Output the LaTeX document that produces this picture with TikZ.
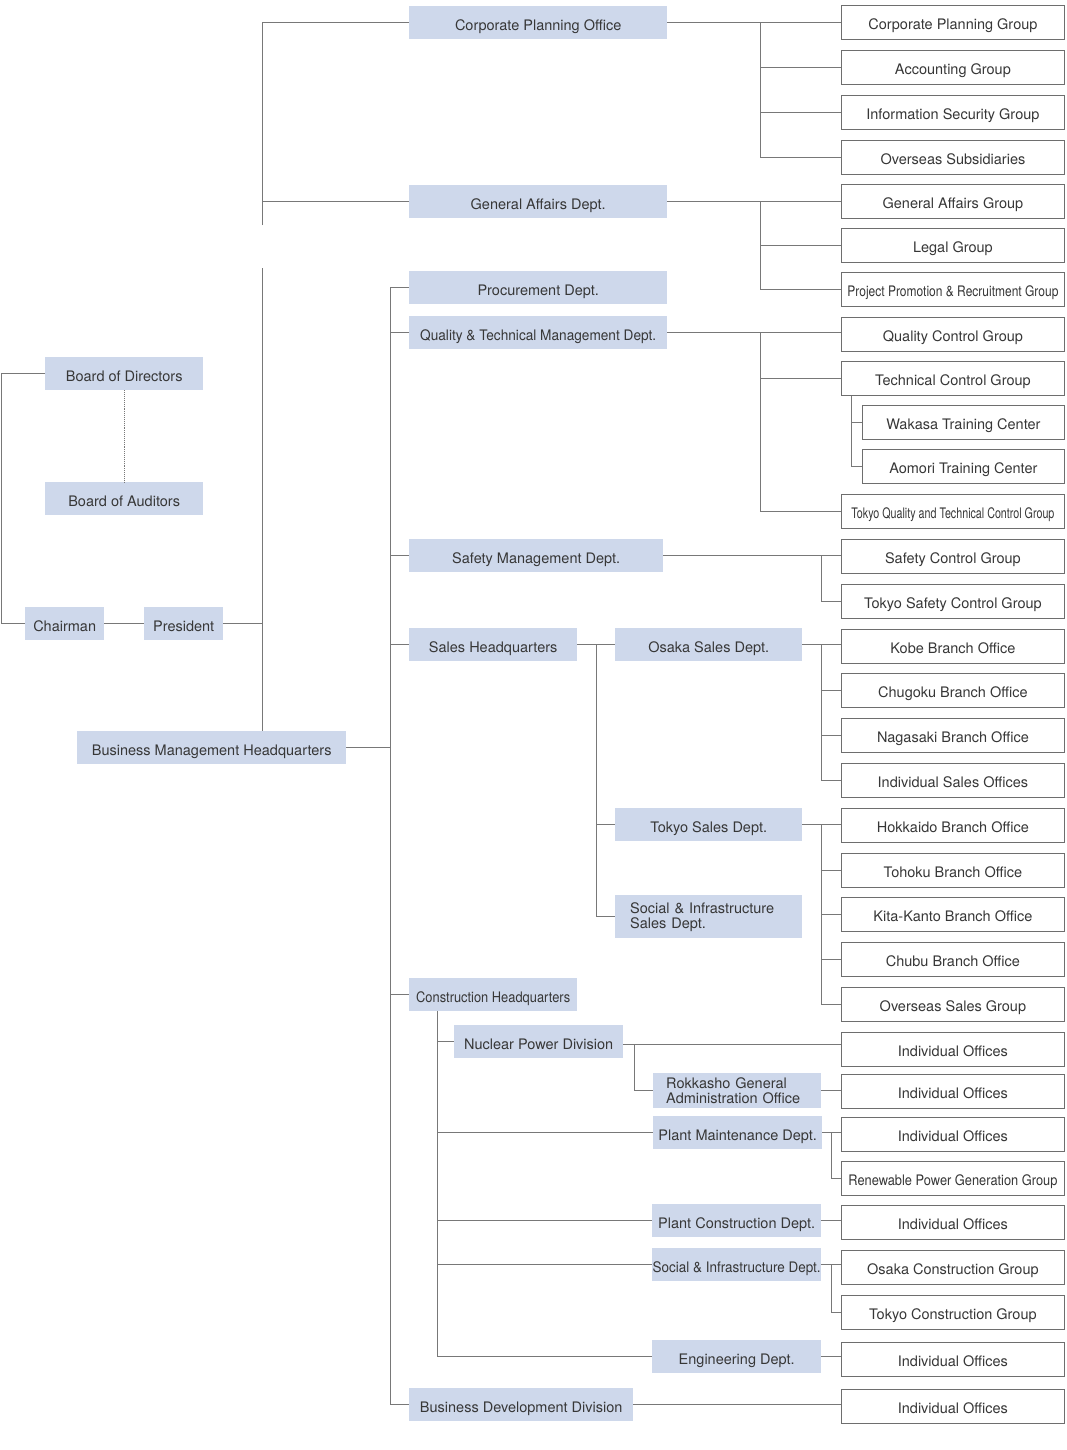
\documentclass[tikz,border=0pt]{standalone}
\usepackage{fontspec}
\setmainfont{TeX Gyre Heros}
\usepackage{graphicx}
\usetikzlibrary{positioning}
\definecolor{unitblue}{RGB}{206,216,235}
\definecolor{inkgrey}{RGB}{55,55,55}
\definecolor{wiregrey}{RGB}{120,120,120}
\definecolor{framegrey}{RGB}{110,110,110}
\newcommand{\fitw}[2]{\resizebox{#1pt}{\height}{#2}}

\begin{document}
\begin{tikzpicture}[x=1pt, y=-1pt,
        every node/.style={font=\fontsize{14.5}{15}\selectfont, text=inkgrey, inner sep=0pt, anchor=north west},
        panel/.style={fill=unitblue},
        unit/.style={panel, minimum height=33pt, text height=15pt, text depth=0pt},
        group/.style={draw=framegrey, fill=white, line width=0.8pt, minimum width=223pt, minimum height=34pt,
                      text height=14pt, text depth=0pt},
        subgroup/.style={group, minimum width=202pt},
        link/.style={draw=wiregrey, line width=0.9pt}
    ]
        \fill[white] (0,0) rectangle (1066,1450);
        \useasboundingbox (0,0) rectangle (1066,1450);

        % Direction
        \node[unit, minimum width=158pt] (bod) at (45,357) {Board of Directors};
        \node[unit, minimum width=158pt] (boa) at (45,482) {Board of Auditors};
        \node[unit, minimum width=79pt] (chair) at (25,607) {Chairman};
        \node[unit, minimum width=79pt] (pres) at (144,607) {President};
        \node[unit, minimum width=269pt] (bmh) at (77,731) {Business Management Headquarters};

        % Offices et départements
        \node[unit, minimum width=258pt] (cpo) at (409,6) {Corporate Planning Office};
        \node[unit, minimum width=258pt] (gad) at (409,185) {General Affairs Dept.};
        \node[unit, minimum width=258pt] (proc) at (409,271) {Procurement Dept.};
        \node[unit, minimum width=258pt] (qtm) at (409,316) {\fitw{236}{Quality \& Technical Management Dept.}};
        \node[unit, minimum width=254pt] (smd) at (409,539) {Safety Management Dept.};
        \node[unit, minimum width=168pt] (shq) at (409,628) {Sales Headquarters};
        \node[unit, minimum width=168pt] (chq) at (409,978) {\fitw{154}{Construction Headquarters}};
        \node[unit, minimum width=224pt] (bdd) at (409,1388) {Business Development Division};

        \node[unit, minimum width=187pt] (osd) at (615,628) {Osaka Sales Dept.};
        \node[unit, minimum width=187pt] (tsd) at (615,808) {Tokyo Sales Dept.};
        \node[panel, text width=157pt, inner xsep=15pt, minimum height=43pt, align=left] (sisd) at (615,895)
            {Social \& Infrastructure\\Sales Dept.};

        \node[unit, minimum width=169pt] (npd) at (454,1025) {Nuclear Power Division};
        \node[panel, text width=142pt, inner xsep=13pt, minimum height=35pt, align=left] (rok) at (653,1073)
            {Rokkasho General\\Administration Office};
        \node[unit, minimum width=169pt] (pmd) at (653,1116) {Plant Maintenance Dept.};
        \node[unit, minimum width=169pt] (pcd) at (652,1204) {Plant Construction Dept.};
        \node[unit, minimum width=169pt] (sid) at (652,1248) {\fitw{168}{Social \& Infrastructure Dept.}};
        \node[unit, minimum width=169pt] (eng) at (652,1340) {Engineering Dept.};

        % Groupes
        \node[group] (cpg) at (841,5) {Corporate Planning Group};
        \node[group] (acc) at (841,50) {Accounting Group};
        \node[group] (isg) at (841,95) {Information Security Group};
        \node[group] (oss) at (841,140) {Overseas Subsidiaries};
        \node[group] (gag) at (841,184) {General Affairs Group};
        \node[group] (leg) at (841,228) {Legal Group};
        \node[group] (ppr) at (841,272) {\fitw{211}{Project Promotion \& Recruitment Group}};
        \node[group] (qcg) at (841,317) {Quality Control Group};
        \node[group] (tcg) at (841,361) {Technical Control Group};
        \node[subgroup] (wtc) at (862,405) {Wakasa Training Center};
        \node[subgroup] (atc) at (862,449) {Aomori Training Center};
        \node[group] (tqt) at (841,494) {\fitw{203}{Tokyo Quality and Technical Control Group}};
        \node[group] (scg) at (841,539) {Safety Control Group};
        \node[group] (tsc) at (841,584) {Tokyo Safety Control Group};
        \node[group] (kobe) at (841,629) {Kobe Branch Office};
        \node[group] (chu) at (841,673) {Chugoku Branch Office};
        \node[group] (naga) at (841,718) {Nagasaki Branch Office};
        \node[group] (iso) at (841,763) {Individual Sales Offices};
        \node[group] (hok) at (841,808) {Hokkaido Branch Office};
        \node[group] (toh) at (841,853) {Tohoku Branch Office};
        \node[group] (kita) at (841,897) {Kita-Kanto Branch Office};
        \node[group] (chubu) at (841,942) {Chubu Branch Office};
        \node[group] (osg) at (841,987) {Overseas Sales Group};
        \node[group] (io1) at (841,1032) {Individual Offices};
        \node[group] (io2) at (841,1074) {Individual Offices};
        \node[group] (io3) at (841,1117) {Individual Offices};
        \node[group] (rpg) at (841,1161) {\fitw{209}{Renewable Power Generation Group}};
        \node[group] (io4) at (841,1205) {Individual Offices};
        \node[group] (ocg) at (841,1250) {Osaka Construction Group};
        \node[group] (tcog) at (841,1295) {Tokyo Construction Group};
        \node[group] (io5) at (841,1342) {Individual Offices};
        \node[group] (io6) at (841,1389) {Individual Offices};

        % Lignes: direction
        \draw[link, densely dotted] (bod.south) -- (boa.north);
        \draw[link] (bod.west) -- ++(-44,0) |- (chair.west);
        \draw[link] (chair.east) -- (pres.west);
        \coordinate (spinetop) at (262,225);
        \coordinate (spine) at (262,268);
        \draw[link] (spinetop) |- (cpo.west);
        \draw[link] (gad.west) -- (gad.west -| spinetop);
        \draw[link] (spine) -- (bmh.north -| spine);
        \draw[link] (pres.east) -- (pres.east -| spine);

        % Lignes: bus principal
        \coordinate (mbus) at (390,0);
        \draw[link] (bmh.east) -- (bmh.east -| mbus);
        \draw[link] (bdd.west) -| (proc.west -| mbus) -- (proc.west);
        \foreach \n in {qtm,smd,shq,chq}
            \draw[link] (\n.west) -- (\n.west -| mbus);

        % Lignes: départements -> groupes
        \coordinate (gbus) at (760,0);
        \coordinate (sbus) at (821,0);
        \draw[link] (cpo.east) -- (cpo.east -| cpg.west);
        \foreach \n in {acc,isg,oss}
            \draw[link] (cpo.east -| gbus) |- (\n.west);
        \draw[link] (gad.east) -- (gad.east -| gag.west);
        \foreach \n in {leg,ppr}
            \draw[link] (gad.east -| gbus) |- (\n.west);
        \draw[link] (qtm.east) -- (qtm.east -| qcg.west);
        \foreach \n in {tcg,tqt}
            \draw[link] (qtm.east -| gbus) |- (\n.west);
        \foreach \n in {wtc,atc}
            \draw[link] ([xshift=10pt]tcg.south west) |- (\n.west);
        \draw[link] (smd.east) -- (smd.east -| scg.west);
        \draw[link] (smd.east -| sbus) |- (tsc.west);

        % Lignes: ventes
        \draw[link] (shq.east) -- (osd.west);
        \foreach \n in {tsd,sisd}
            \draw[link] ([xshift=-19pt]osd.west) |- (\n.west);
        \draw[link] (osd.east) -- (osd.east -| kobe.west);
        \foreach \n in {chu,naga,iso}
            \draw[link] (osd.east -| sbus) |- (\n.west);
        \draw[link] (tsd.east) -- (tsd.east -| hok.west);
        \foreach \n in {toh,kita,chubu,osg}
            \draw[link] (tsd.east -| sbus) |- (\n.west);

        % Lignes: construction
        \coordinate (cbus) at (437,0);
        \foreach \n in {npd,pmd,pcd,sid,eng}
            \draw[link] (chq.south -| cbus) |- (\n.west);
        \draw[link] ([yshift=-3pt]npd.east) -- ([yshift=-3pt]npd.east -| io1.west);
        \draw[link] ([xshift=11pt,yshift=-3pt]npd.east) |- (rok.west);
        \draw[link] (rok.east) -- (rok.east -| io2.west);
        \draw[link] (pmd.east) -- (pmd.east -| io3.west);
        \draw[link] ([xshift=9pt]pmd.east) |- (rpg.west);
        \draw[link] (pcd.east) -- (pcd.east -| io4.west);
        \draw[link] (sid.east) -- (sid.east -| ocg.west);
        \draw[link] ([xshift=10pt]sid.east) |- (tcog.west);
        \draw[link] (eng.east) -- (eng.east -| io5.west);
        \draw[link] (bdd.east) -- (bdd.east -| io6.west);
\end{tikzpicture}
\end{document}
